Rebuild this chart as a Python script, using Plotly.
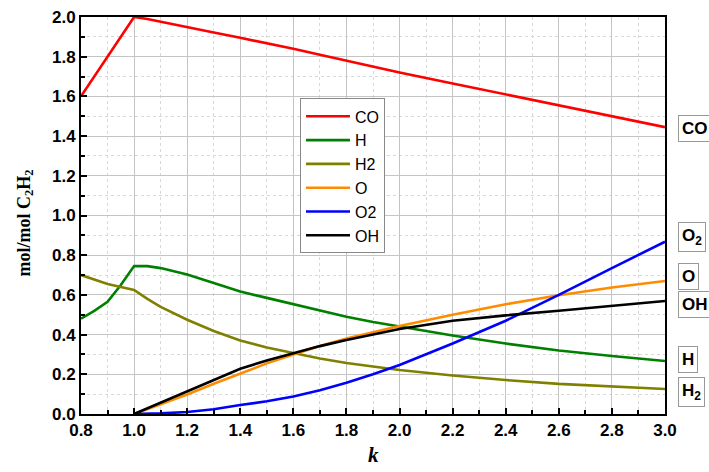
import plotly.graph_objects as go

# ---- data ----
k_full = [0.8, 0.85, 0.9, 0.95, 1.0, 1.05, 1.1, 1.2, 1.3, 1.4, 1.5, 1.6, 1.7, 1.8, 1.9, 2.0,
          2.2, 2.4, 2.6, 2.8, 3.0]
co = [1.60, 1.70, 1.80, 1.90, 2.00, 1.99, 1.977, 1.95, 1.922, 1.895, 1.868, 1.84, 1.81, 1.78,
      1.75, 1.72, 1.665, 1.61, 1.555, 1.50, 1.445]
h = [0.48, 0.52, 0.565, 0.65, 0.745, 0.745, 0.735, 0.703, 0.66, 0.617, 0.585, 0.554, 0.52,
     0.49, 0.463, 0.44, 0.395, 0.355, 0.32, 0.292, 0.267]
h2 = [0.70, 0.677, 0.655, 0.64, 0.625, 0.58, 0.54, 0.475, 0.418, 0.37, 0.335, 0.307, 0.28,
      0.257, 0.238, 0.222, 0.194, 0.171, 0.152, 0.138, 0.126]

k_ox = [1.0, 1.1, 1.2, 1.3, 1.4, 1.5, 1.6, 1.7, 1.8, 1.9, 2.0, 2.2, 2.4, 2.6, 2.8, 3.0]
o = [0.0, 0.048, 0.098, 0.152, 0.205, 0.255, 0.30, 0.343, 0.38, 0.413, 0.443, 0.50, 0.553,
     0.598, 0.637, 0.670]
o2 = [0.0, 0.003, 0.01, 0.024, 0.045, 0.064, 0.088, 0.12, 0.157, 0.20, 0.247, 0.355, 0.47,
      0.60, 0.735, 0.868]
oh = [0.0, 0.058, 0.115, 0.172, 0.228, 0.27, 0.307, 0.342, 0.373, 0.402, 0.428, 0.47, 0.497,
      0.52, 0.545, 0.569]

series = [
    ("CO", k_full, co, "#ff0000"),
    ("H", k_full, h, "#008000"),
    ("H2", k_full, h2, "#808000"),
    ("O", k_ox, o, "#ff8c00"),
    ("O2", k_ox, o2, "#0000ff"),
    ("OH", k_ox, oh, "#000000"),
]

side_labels = ["CO", "O<sub>2</sub>", "O", "OH", "H", "H<sub>2</sub>"]
side_label_y = [1.44, 0.89, 0.695, 0.55, 0.277, 0.11]

x_ticks = [0.8, 1.0, 1.2, 1.4, 1.6, 1.8, 2.0, 2.2, 2.4, 2.6, 2.8, 3.0]
y_ticks = [0.0, 0.2, 0.4, 0.6, 0.8, 1.0, 1.2, 1.4, 1.6, 1.8, 2.0]

fig = go.Figure()
for name, xs, ys, col in series:
    fig.add_trace(go.Scatter(x=xs, y=ys, name=name, mode="lines",
                             line=dict(color=col, width=2.6)))

for txt, yv in zip(side_labels, side_label_y):
    fig.add_annotation(x=1.022, xref="paper", y=yv, yref="y", text=f"<b>{txt}</b>",
                       showarrow=False, xanchor="left", yanchor="middle",
                       font=dict(family="Liberation Sans, Arial", size=17, color="black"),
                       bordercolor="#999999", borderwidth=1, borderpad=3, bgcolor="white")

# axis titles as annotations placed relative to the plot area
fig.add_annotation(x=0.5, xref="paper", y=-0.103, yref="paper",
                   text="<b><i>k</i></b>", showarrow=False, xanchor="center", yanchor="middle",
                   font=dict(family="Liberation Serif, Times New Roman", size=21, color="black"))
fig.add_annotation(x=0, xref="paper", xshift=-56, y=0.96, yref="y",
                   text="<b>mol/mol C<sub>2</sub>H<sub>2</sub></b>", textangle=-90,
                   showarrow=False, xanchor="center", yanchor="middle",
                   font=dict(family="Liberation Serif, Times New Roman", size=18, color="black"))

axis_common = dict(
    showline=True, linecolor="black", linewidth=2, mirror=True,
    ticks="inside", ticklen=6, tickwidth=1.5, tickcolor="black",
    showgrid=True, gridcolor="#c4c4c4", gridwidth=1,
    tickfont=dict(family="Liberation Sans, Arial", size=17, color="black"),
    zeroline=False, automargin=False,
    minor=dict(ticks="inside", ticklen=4, tickcolor="black", showgrid=True,
               gridcolor="#d8d8d8", griddash="dot", gridwidth=1),
)

fig.update_xaxes(range=[0.8, 3.0], tickvals=x_ticks,
                 ticktext=[f"<b>{v:.1f}</b>" for v in x_ticks], **axis_common)
fig.update_xaxes(minor_dtick=0.1, minor_tick0=0.8)
fig.update_yaxes(range=[0.0, 2.0], tickvals=y_ticks,
                 ticktext=[f"<b>{v:.1f}</b>" for v in y_ticks], **axis_common)
fig.update_yaxes(minor_dtick=0.1, minor_tick0=0.0)

fig.update_layout(
    width=709, height=472,
    margin=dict(l=81, r=44, t=17, b=58),
    plot_bgcolor="white", paper_bgcolor="white",
    showlegend=True,
    legend=dict(x=0.375, y=0.795, xanchor="left", yanchor="top",
                bordercolor="#888888", borderwidth=1, bgcolor="white",
                font=dict(family="Liberation Sans, Arial", size=16, color="black"),
                tracegroupgap=0, itemwidth=44),
)

fig.write_html("out.html")
